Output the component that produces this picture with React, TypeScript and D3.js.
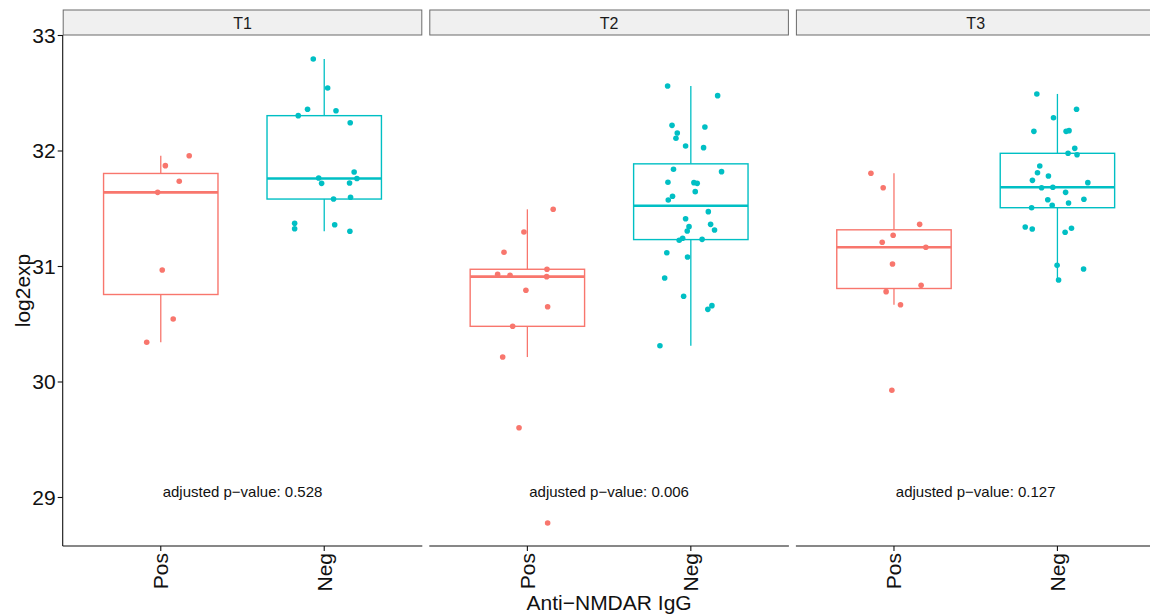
import React, { useEffect, useRef } from 'react';
import * as d3 from 'd3';

// facets, groups and annotations
const panels = ['T1', 'T2', 'T3'];
const groups = ['Pos', 'Neg'];
const pValues = ['0.528', '0.006', '0.127'];
const yTicks = [29, 30, 31, 32, 33];

// log2exp values, with the jitter offset (in category steps) of each dot
const t1Pos = [31.959, 31.873, 31.738, 31.642, 30.970, 30.545, 30.344];
const t1PosJitter = [0.174, 0.028, 0.113, -0.019, 0.009, 0.076, -0.086];
const t1Neg = [32.797, 32.545, 32.361, 32.349, 32.306, 32.245, 31.818, 31.766, 31.762, 31.720, 31.723,
  31.584, 31.599, 31.374, 31.327, 31.362, 31.305];
const t1NegJitter = [-0.067, 0.021, -0.102, 0.072, -0.159, 0.159, 0.183, -0.034, 0.200, -0.016, 0.155,
  0.057, 0.161, -0.181, -0.181, 0.064, 0.157];

const t2Pos = [31.495, 31.299, 31.123, 30.976, 30.932, 30.924, 30.912, 30.794, 30.652, 30.482, 30.216,
  29.604, 28.779];
const t2PosJitter = [0.158, -0.021, -0.143, 0.120, -0.182, -0.106, 0.118, -0.009, 0.124, -0.090, -0.151,
  -0.051, 0.124];
const t2Neg = [32.563, 32.479, 32.222, 32.208, 32.156, 32.110, 32.043, 32.029, 31.821, 31.842, 31.729,
  31.726, 31.720, 31.648, 31.608, 31.576, 31.475, 31.414, 31.365, 31.345, 31.316, 31.307, 31.244, 31.227,
  31.235, 31.119, 31.082, 30.900, 30.742, 30.661, 30.629, 30.314];
const t2NegJitter = [-0.142, 0.164, -0.115, 0.086, -0.083, -0.091, -0.032, 0.078, 0.188, -0.106, -0.140,
  0.019, 0.039, 0.027, -0.112, -0.138, 0.107, -0.032, 0.121, -0.011, 0.145, -0.022, -0.050, -0.071,
  0.069, -0.147, -0.020, -0.160, -0.044, 0.129, 0.104, -0.189];

const t3Pos = [31.807, 31.682, 31.365, 31.270, 31.210, 31.166, 31.022, 30.837, 30.782, 30.669, 29.928];
const t3PosJitter = [-0.141, -0.066, 0.157, -0.005, -0.072, 0.195, -0.009, 0.166, -0.048, 0.040, -0.013];
const t3Neg = [32.494, 32.361, 32.288, 32.170, 32.170, 32.176, 32.023, 31.980, 31.968, 31.870, 31.812,
  31.784, 31.746, 31.726, 31.682, 31.686, 31.642, 31.578, 31.582, 31.550, 31.530, 31.509, 31.342, 31.325,
  31.296, 31.331, 31.010, 30.978, 30.883];
const t3NegJitter = [-0.126, 0.117, -0.024, -0.144, 0.053, 0.071, 0.106, 0.065, 0.120, -0.108, -0.122,
  -0.055, -0.153, 0.186, -0.097, -0.028, 0.050, -0.059, 0.162, 0.068, -0.032, -0.158, -0.197, -0.154,
  0.047, 0.086, -0.002, 0.160, 0.007];

const panelValues = [[t1Pos, t1Neg], [t2Pos, t2Neg], [t3Pos, t3Neg]];
const panelJitter = [[t1PosJitter, t1NegJitter], [t2PosJitter, t2NegJitter], [t3PosJitter, t3NegJitter]];

const colors = { Pos: '#F8766D', Neg: '#00BFC4' };
const FONT = '"Liberation Sans", Arial, Helvetica, sans-serif';

const boxStats = (values: number[]) => {
  const s = values.slice().sort(d3.ascending);
  const q1 = d3.quantile(s, 0.25) as number;
  const med = d3.quantile(s, 0.5) as number;
  const q3 = d3.quantile(s, 0.75) as number;
  const iqr = q3 - q1;
  const lo = d3.min(s.filter(v => v >= q1 - 1.5 * iqr)) as number;
  const hi = d3.max(s.filter(v => v <= q3 + 1.5 * iqr)) as number;
  return { q1, med, q3, lo, hi };
};

const App = () => {
  const svgRef = useRef<SVGSVGElement | null>(null);

  useEffect(() => {
    const svg = d3.select(svgRef.current);
    svg.selectAll('*').remove();

    const width = 1150;
    const height = 615;
    const plotTop = 35;
    const plotBottom = 546;
    const stripTop = 10;

    const y = d3.scaleLinear().domain([28.58, 33.0]).range([plotBottom, 35.5]);

    const facet = d3.scaleBand()
      .domain(panels)
      .range([62.7, 1155.5])
      .paddingInner(7 / 366.6)
      .paddingOuter(0);
    const pw = facet.bandwidth();

    const x = d3.scalePoint().domain(groups).range([0, pw]).padding(0.6);
    const step = x.step();
    const boxW = 0.7 * step;

    svg.append('rect').attr('width', width).attr('height', height).attr('fill', '#fff');

    panels.forEach((p, i) => {
      const g = svg.append('g').attr('transform', `translate(${facet(p)},0)`);

      // strip
      g.append('rect')
        .attr('x', 0.5).attr('y', stripTop)
        .attr('width', pw - 1).attr('height', plotTop - stripTop)
        .attr('fill', '#f0f0f0')
        .attr('stroke', '#6b6b6b')
        .attr('stroke-width', 1);
      g.append('text')
        .attr('x', pw / 2).attr('y', (stripTop + plotTop) / 2 + 1)
        .attr('text-anchor', 'middle')
        .attr('dominant-baseline', 'central')
        .style('font-family', FONT)
        .style('font-size', '16px')
        .attr('fill', '#1a1a1a')
        .text(p);

      groups.forEach((grp, j) => {
        const vals = panelValues[i][j];
        const jit = panelJitter[i][j];
        const cx = x(grp) as number;
        const st = boxStats(vals);
        const col = colors[grp as 'Pos' | 'Neg'];

        const bg = g.append('g');
        bg.append('line')
          .attr('x1', cx).attr('x2', cx)
          .attr('y1', y(st.hi)).attr('y2', y(st.q3))
          .attr('stroke', col).attr('stroke-width', 1.3);
        bg.append('line')
          .attr('x1', cx).attr('x2', cx)
          .attr('y1', y(st.q1)).attr('y2', y(st.lo))
          .attr('stroke', col).attr('stroke-width', 1.3);
        bg.append('rect')
          .attr('x', cx - boxW / 2).attr('y', y(st.q3))
          .attr('width', boxW).attr('height', y(st.q1) - y(st.q3))
          .attr('fill', 'none')
          .attr('stroke', col).attr('stroke-width', 1.4);
        bg.append('line')
          .attr('x1', cx - boxW / 2).attr('x2', cx + boxW / 2)
          .attr('y1', y(st.med)).attr('y2', y(st.med))
          .attr('stroke', col).attr('stroke-width', 2.6);

        g.append('g').selectAll('circle')
          .data(vals)
          .join('circle')
          .attr('cx', (d, k) => cx + jit[k] * step)
          .attr('cy', d => y(d))
          .attr('r', 2.8)
          .attr('fill', col);
      });

      // p-value annotation
      g.append('text')
        .attr('x', pw / 2).attr('y', y(29) - 0.5)
        .attr('text-anchor', 'middle')
        .style('font-family', FONT)
        .style('font-size', '15px')
        .attr('fill', '#111')
        .text(`adjusted p\u2212value: ${pValues[i]}`);

      // bottom axis
      g.append('line')
        .attr('x1', 0).attr('x2', pw)
        .attr('y1', plotBottom).attr('y2', plotBottom)
        .attr('stroke', '#111').attr('stroke-width', 1.1);
      groups.forEach(grp => {
        const tx = x(grp) as number;
        g.append('line')
          .attr('x1', tx).attr('x2', tx)
          .attr('y1', plotBottom).attr('y2', plotBottom + 5)
          .attr('stroke', '#111').attr('stroke-width', 1.1);
        g.append('text')
          .attr('transform', `translate(${tx},${plotBottom + 7}) rotate(-90)`)
          .attr('text-anchor', 'end')
          .attr('dominant-baseline', 'central')
          .style('font-family', FONT)
          .style('font-size', '21px')
          .attr('fill', '#111')
          .text(grp);
      });
    });

    // left axis
    const left = facet(panels[0]) as number;
    svg.append('line')
      .attr('x1', left).attr('x2', left)
      .attr('y1', plotTop).attr('y2', plotBottom)
      .attr('stroke', '#111').attr('stroke-width', 1.1);
    yTicks.forEach(t => {
      svg.append('line')
        .attr('x1', left - 5).attr('x2', left)
        .attr('y1', y(t)).attr('y2', y(t))
        .attr('stroke', '#111').attr('stroke-width', 1.1);
      svg.append('text')
        .attr('x', left - 7).attr('y', y(t))
        .attr('text-anchor', 'end')
        .attr('dominant-baseline', 'central')
        .style('font-family', FONT)
        .style('font-size', '21px')
        .attr('fill', '#111')
        .text(t);
    });

    // axis titles
    svg.append('text')
      .attr('transform', `translate(22,${(plotTop + plotBottom) / 2}) rotate(-90)`)
      .attr('text-anchor', 'middle')
      .attr('dominant-baseline', 'central')
      .style('font-family', FONT)
      .style('font-size', '21px')
      .attr('fill', '#111')
      .text('log2exp');
    svg.append('text')
      .attr('x', (62.7 + 1155.5) / 2).attr('y', 610)
      .attr('text-anchor', 'middle')
      .style('font-family', FONT)
      .style('font-size', '21px')
      .attr('fill', '#111')
      .text('Anti\u2212NMDAR IgG');
  }, []);

  return (
    <div style={{ position: 'fixed', left: 0, top: 0, width: 1150, height: 615, overflow: 'hidden' }}>
      <svg ref={svgRef} width={1150} height={615} />
    </div>
  );
};

export default App;
